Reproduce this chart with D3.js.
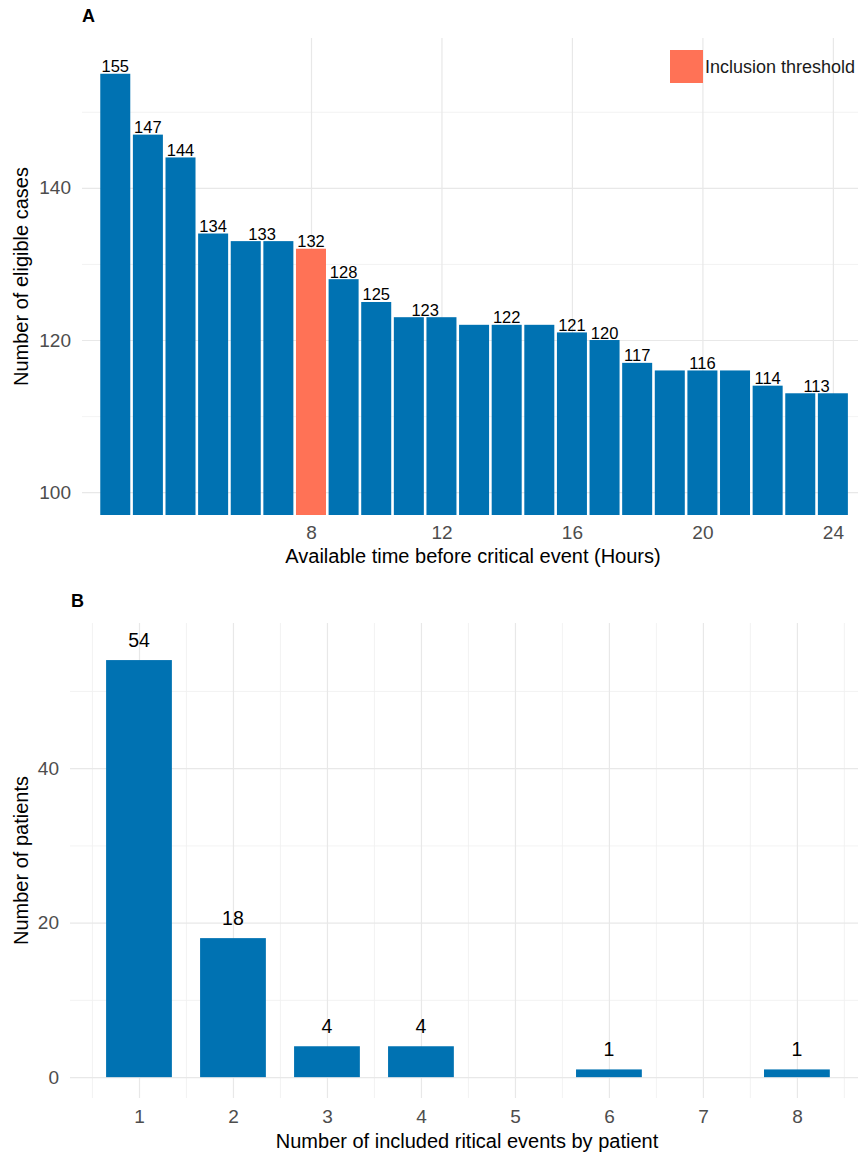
<!DOCTYPE html>
<html>
<head>
<meta charset="utf-8">
<script src="https://cdn.jsdelivr.net/npm/d3@7"></script>
<style>
  body { margin: 0; background: #fff; }
  svg { font-family: "Liberation Sans", Arial, sans-serif; display: block; }
  .tick text { fill: #4d4d4d; font-size: 19px; }
  .grid line { stroke: #e8e8e8; stroke-width: 1.2; }
  .grid.minor line { stroke: #f0f0f0; stroke-width: 0.8; }
  .grid path, .axis path { display: none; }
</style>
</head>
<body>
<script>
'use strict';

// panel A data: hours before critical event and eligible cases
var hours = [2, 3, 4, 5, 6, 7, 8, 9, 10, 11, 12, 13, 14, 15, 16, 17, 18, 19, 20, 21, 22, 23, 24];
var cases = [155, 147, 144, 134, 133, 133, 132, 128, 125, 123, 123, 122, 122, 122, 121, 120, 117, 116, 116, 116, 114, 113, 113];
var thresholdHour = 8;
var xTicksA = [8, 12, 16, 20, 24];
var yTicksA = [100, 120, 140];
var yMinorA = [110, 130, 150];

// panel B data: included critical events per patient
var events = [1, 2, 3, 4, 6, 8];
var patients = [54, 18, 4, 4, 1, 1];
var xTicksB = [1, 2, 3, 4, 5, 6, 7, 8];
var xMinorB = [0.5, 1.5, 2.5, 3.5, 4.5, 5.5, 6.5, 7.5, 8.5];
var yTicksB = [0, 20, 40];
var yMinorB = [10, 30, 50];

var blue = '#0072b2';
var coral = '#ff7256';

var svg = d3.select('body').append('svg')
    .attr('width', 858)
    .attr('height', 1156);

// ---------- panel A ----------
var pA = {left: 82, right: 858, top: 38, bottom: 515};

var xA = d3.scaleLinear().domain([0.98, 24.77]).range([pA.left, pA.right]);
var yA = d3.scaleLinear().domain([97, 159.7]).range([pA.bottom, pA.top]);

// grid lines
svg.append('g').attr('class', 'grid minor')
    .attr('transform', 'translate(' + pA.left + ',0)')
    .call(d3.axisLeft(yA).tickValues(yMinorA).tickSize(-(pA.right - pA.left)).tickFormat(''));
svg.append('g').attr('class', 'grid')
    .attr('transform', 'translate(' + pA.left + ',0)')
    .call(d3.axisLeft(yA).tickValues(yTicksA).tickSize(-(pA.right - pA.left)).tickFormat(''));
svg.append('g').attr('class', 'grid')
    .attr('transform', 'translate(0,' + pA.bottom + ')')
    .call(d3.axisBottom(xA).tickValues(xTicksA).tickSize(-(pA.bottom - pA.top)).tickFormat(''));

// bars
var dataA = hours.map(function(h, i) { return {hour: h, n: cases[i]}; });
svg.append('g').selectAll('rect')
    .data(dataA)
    .enter().append('rect')
    .attr('x', function(d) { return xA(d.hour - 0.46); })
    .attr('width', function(d) { return xA(d.hour + 0.46) - xA(d.hour - 0.46); })
    .attr('y', function(d) { return yA(d.n); })
    .attr('height', function(d) { return yA.range()[0] - yA(d.n); })
    .attr('fill', function(d) { return d.hour === thresholdHour ? coral : blue; });

// labels: one per run of equal values, centred on the run
var runs = [];
dataA.forEach(function(d) {
    var last = runs[runs.length - 1];
    if (last && last.n === d.n) {
        last.hours.push(d.hour);
    } else {
        runs.push({n: d.n, hours: [d.hour]});
    }
});
svg.append('g').selectAll('text')
    .data(runs)
    .enter().append('text')
    .attr('x', function(d) { return xA(d3.mean(d.hours)); })
    .attr('y', function(d) { return yA(d.n) - 1.5; })
    .attr('text-anchor', 'middle')
    .attr('font-size', '16.5px')
    .attr('fill', '#000')
    .text(function(d) { return d.n; });

// axes
svg.append('g').attr('class', 'axis')
    .attr('transform', 'translate(0,' + pA.bottom + ')')
    .call(d3.axisBottom(xA).tickValues(xTicksA).tickSize(0).tickPadding(10.5));
svg.append('g').attr('class', 'axis')
    .attr('transform', 'translate(' + pA.left + ',0)')
    .call(d3.axisLeft(yA).tickValues(yTicksA).tickSize(0).tickPadding(11));

svg.append('text')
    .attr('x', (pA.left + pA.right) / 2 + 3)
    .attr('y', 563)
    .attr('text-anchor', 'middle')
    .attr('font-size', '20px')
    .text('Available time before critical event (Hours)');
svg.append('text')
    .attr('transform', 'translate(28,' + (pA.top + pA.bottom) / 2 + ') rotate(-90)')
    .attr('text-anchor', 'middle')
    .attr('font-size', '20px')
    .text('Number of eligible cases');
svg.append('text')
    .attr('x', pA.left)
    .attr('y', 22)
    .attr('font-size', '18px')
    .attr('font-weight', 'bold')
    .text('A');

// legend
svg.append('rect')
    .attr('x', 670).attr('y', 50)
    .attr('width', 33).attr('height', 33)
    .attr('fill', coral);
svg.append('text')
    .attr('x', 705).attr('y', 73)
    .attr('font-size', '18px')
    .attr('fill', '#1a1a1a')
    .text('Inclusion threshold');

// ---------- panel B ----------
var pB = {left: 70, right: 858, top: 623, bottom: 1098};

var xB = d3.scaleLinear().domain([0.266, 8.65]).range([pB.left, pB.right]);
var yB = d3.scaleLinear().domain([-2.7, 58.8]).range([pB.bottom, pB.top]);

svg.append('g').attr('class', 'grid minor')
    .attr('transform', 'translate(' + pB.left + ',0)')
    .call(d3.axisLeft(yB).tickValues(yMinorB).tickSize(-(pB.right - pB.left)).tickFormat(''));
svg.append('g').attr('class', 'grid minor')
    .attr('transform', 'translate(0,' + pB.bottom + ')')
    .call(d3.axisBottom(xB).tickValues(xMinorB).tickSize(-(pB.bottom - pB.top)).tickFormat(''));
svg.append('g').attr('class', 'grid')
    .attr('transform', 'translate(' + pB.left + ',0)')
    .call(d3.axisLeft(yB).tickValues(yTicksB).tickSize(-(pB.right - pB.left)).tickFormat(''));
svg.append('g').attr('class', 'grid')
    .attr('transform', 'translate(0,' + pB.bottom + ')')
    .call(d3.axisBottom(xB).tickValues(xTicksB).tickSize(-(pB.bottom - pB.top)).tickFormat(''));

var dataB = events.map(function(e, i) { return {events: e, n: patients[i]}; });
svg.append('g').selectAll('rect')
    .data(dataB)
    .enter().append('rect')
    .attr('x', function(d) { return xB(d.events - 0.35); })
    .attr('width', function(d) { return xB(d.events + 0.35) - xB(d.events - 0.35); })
    .attr('y', function(d) { return yB(d.n); })
    .attr('height', function(d) { return yB(0) - yB(d.n); })
    .attr('fill', blue);

svg.append('g').selectAll('text')
    .data(dataB)
    .enter().append('text')
    .attr('x', function(d) { return xB(d.events); })
    .attr('y', function(d) { return yB(d.n) - 13.5; })
    .attr('text-anchor', 'middle')
    .attr('font-size', '19.5px')
    .attr('fill', '#000')
    .text(function(d) { return d.n; });

svg.append('g').attr('class', 'axis')
    .attr('transform', 'translate(0,' + pB.bottom + ')')
    .call(d3.axisBottom(xB).tickValues(xTicksB).tickSize(0).tickPadding(11.5));
svg.append('g').attr('class', 'axis')
    .attr('transform', 'translate(' + pB.left + ',0)')
    .call(d3.axisLeft(yB).tickValues(yTicksB).tickSize(0).tickPadding(11));

svg.append('text')
    .attr('x', (pB.left + pB.right) / 2 + 3)
    .attr('y', 1148)
    .attr('text-anchor', 'middle')
    .attr('font-size', '20px')
    .text('Number of included ritical events by patient');
svg.append('text')
    .attr('transform', 'translate(28,' + (pB.top + pB.bottom) / 2 + ') rotate(-90)')
    .attr('text-anchor', 'middle')
    .attr('font-size', '20px')
    .text('Number of patients');
svg.append('text')
    .attr('x', 71)
    .attr('y', 607)
    .attr('font-size', '18px')
    .attr('font-weight', 'bold')
    .text('B');
</script>
</body>
</html>
